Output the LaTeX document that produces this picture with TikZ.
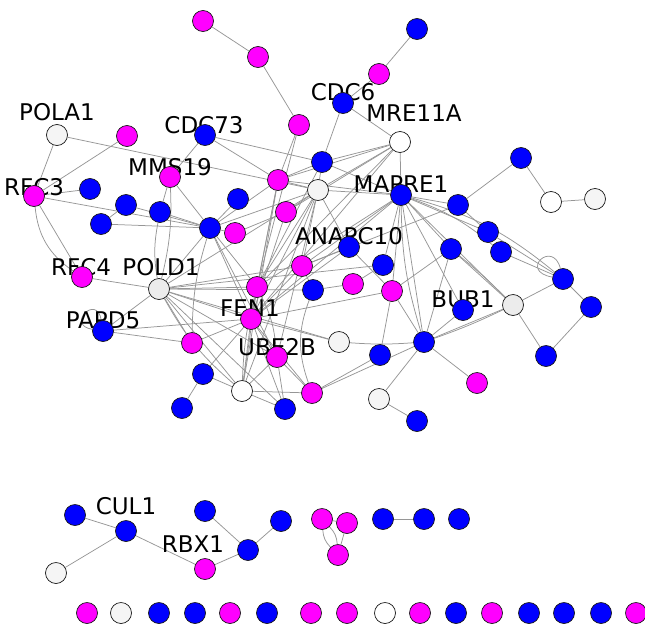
\documentclass[tikz,border=0pt]{standalone}
\usepackage{fontspec}
\setmainfont{DejaVu Sans}
\pgfdeclarelayer{bg}
\pgfdeclarelayer{lab}
\pgfsetlayers{bg,lab,main}
\definecolor{edgec}{RGB}{150,150,150}
\definecolor{lgr}{RGB}{236,236,236}
\definecolor{wgr}{RGB}{245,245,245}
\begin{document}
\begin{tikzpicture}[x=1pt,y=-1pt,
  gn/.style={circle,minimum size=21pt,inner sep=0pt,draw=black!90,line width=0.7pt},
  bl/.style={gn,fill={rgb,255:red,0;green,0;blue,255}},
  mg/.style={gn,fill={rgb,255:red,255;green,0;blue,255}},
  wh/.style={gn,fill=white},
  lw/.style={gn,fill=wgr},
  lg/.style={gn,fill=lgr},
  ed/.style={draw=edgec,line width=0.75pt},
  lbl/.style={inner sep=0pt,font=\fontsize{23}{25}\selectfont,text=black}]
\useasboundingbox (0,0) rectangle (645,624);
% ---------- main component nodes ----------
\node[mg] (A1) at (203,21) {};
\node[mg] (A2) at (258,57) {};
\node[mg] (A3) at (299,125) {};
\node[bl] (A4) at (417,29) {};
\node[mg] (A5) at (379,74) {};
\node[bl] (CDC6) at (343,103) {};
\node[wh] (MRE) at (400,142) {};
\node[lw] (POLA1) at (57,135) {};
\node[mg] (M127) at (127,136) {};
\node[bl] (CDC73) at (205,135) {};
\node[mg] (MMS19) at (170,177) {};
\node[mg] (RFC3) at (34,196) {};
\node[bl] (B90) at (90,189) {};
\node[bl] (B126) at (126,205) {};
\node[bl] (B101) at (101,224) {};
\node[bl] (B160) at (160,212) {};
\node[bl] (B209) at (210,228) {};
\node[bl] (B238) at (238,199) {};
\node[mg] (M235) at (235,233) {};
\node[mg] (M278) at (278,180) {};
\node[mg] (M286) at (286,212) {};
\node[bl] (B322) at (322,162) {};
\node[lw] (W318) at (318,190) {};
\node[bl] (MAPRE1) at (401,195) {};
\node[bl] (B458) at (458,205) {};
\node[bl] (B521) at (521,158) {};
\node[wh] (W551) at (551,202) {};
\node[lw] (W595) at (595,199) {};
\node[bl] (B488) at (488,232) {};
\node[bl] (B501) at (501,252) {};
\node[bl] (B451) at (451,249) {};
\node[bl] (B563) at (563,279) {};
\node[bl] (B591) at (591,307) {};
\node[bl] (B546) at (546,356) {};
\node[bl] (BUB1) at (463,310) {};
\node[lg] (W513) at (513,305) {};
\node[bl] (ANAPC10) at (349,247) {};
\node[bl] (B383) at (383,265) {};
\node[mg] (M353) at (353,284) {};
\node[mg] (M392) at (392,291) {};
\node[mg] (M303) at (302,266) {};
\node[bl] (B313) at (313,290) {};
\node[lw] (W339) at (339,342) {};
\node[bl] (B424) at (424,342) {};
\node[bl] (B380) at (380,355) {};
\node[mg] (M312) at (312,393) {};
\node[lw] (W379) at (379,399) {};
\node[bl] (B417) at (417,421) {};
\node[mg] (M477) at (477,383) {};
\node[mg] (RFC4) at (82,277) {};
\node[bl] (PAPD5) at (103,331) {};
\node[lg] (POLD1) at (159,289) {};
\node[mg] (M257) at (257,287) {};
\node[mg] (FEN1) at (251,319) {};
\node[mg] (UBE2B) at (277,357) {};
\node[mg] (M192) at (192,343) {};
\node[bl] (B203) at (203,374) {};
\node[bl] (B182) at (182,408) {};
\node[wh] (W242) at (242,391) {};
\node[bl] (B285) at (285,409) {};
% ---------- lower components ----------
\node[bl] (C1) at (75,515) {};
\node[bl] (CUL1) at (126,531) {};
\node[lw] (C2) at (56,573) {};
\node[bl] (C3) at (205,511) {};
\node[mg] (RBX1) at (205,569) {};
\node[bl] (C4) at (248,550) {};
\node[bl] (C5) at (281,521) {};
\node[mg] (T1) at (322,519) {};
\node[mg] (T2) at (347,523) {};
\node[mg] (T3) at (338,555) {};
\node[bl] (D1) at (383,519) {};
\node[bl] (D2) at (424,519) {};
\node[bl] (D3) at (459,519) {};
% ---------- bottom row ----------
\node[mg] (R1) at (87,613) {};
\node[lw] (R2) at (121,613) {};
\node[bl] (R3) at (159,613) {};
\node[bl] (R4) at (195,613) {};
\node[mg] (R5) at (230,613) {};
\node[bl] (R6) at (267,613) {};
\node[mg] (R7) at (311,613) {};
\node[mg] (R8) at (347,613) {};
\node[wh] (R9) at (385,613) {};
\node[mg] (R10) at (420,613) {};
\node[bl] (R11) at (456,613) {};
\node[mg] (R12) at (492,613) {};
\node[bl] (R13) at (529,613) {};
\node[bl] (R14) at (564,613) {};
\node[bl] (R15) at (601,613) {};
\node[mg] (R16) at (636,613) {};
% ---------- labels ----------
\begin{pgfonlayer}{lab}
\node[lbl] (lPOLA1) at (57,112) {POLA1};
\node[lbl] (lCDC6) at (343,92) {CDC6};
\node[lbl] (lMRE) at (414,113) {MRE11A};
\node[lbl] (lCDC73) at (204,125) {CDC73};
\node[lbl] (lMMS19) at (170,167) {MMS19};
\node[lbl] (lRFC3) at (34,187) {RFC3};
\node[lbl] (lMAPRE1) at (401,184) {MAPRE1};
\node[lbl] (lANAPC10) at (349,236) {ANAPC10};
\node[lbl] (lBUB1) at (463,299) {BUB1};
\node[lbl] (lRFC4) at (81,267) {RFC4};
\node[lbl] (lPOLD1) at (161,267) {POLD1};
\node[lbl] (lPAPD5) at (103,320) {PAPD5};
\node[lbl] (lFEN1) at (250,308) {FEN1};
\node[lbl] (lUBE2B) at (277,347) {UBE2B};
\node[lbl] (lCUL1) at (126,506) {CUL1};
\node[lbl] (lRBX1) at (193,544) {RBX1};
\end{pgfonlayer}
% ---------- edges ----------
\begin{pgfonlayer}{bg}
\path[ed]
 (A1) edge (A2) (A2) edge (A3) (A3) edge (M278) (A3) edge (M257)
 (A4) edge (A5) (A5) edge (CDC6) (CDC6) edge (MRE) (CDC6) edge (B322)
 (MRE) edge (B322) (MRE) edge (W318) (MRE) edge (M278) (MRE) edge (M257)
 (MRE) edge (FEN1) (MRE) edge (MAPRE1) (MRE) edge (M286)
 (POLA1) edge (RFC3) (POLA1) edge (W318) (M127) edge (RFC3)
 (CDC73) edge (MMS19) (CDC73) edge (B322) (CDC73) edge (M278)
 (RFC3) edge (B90) (RFC3) edge (B209) (RFC3) edge (RFC4)
 (RFC3) edge[bend right=25] (RFC4)
 (B126) edge (B101) (B126) edge (B209) (B101) edge (B209)
 (MMS19) edge (B160) (MMS19) edge (B209) (MMS19) edge[bend left=8] (POLD1)
 (B160) edge[bend right=10] (POLD1) (B160) edge (B209)
 (B209) edge (B238) (B209) edge (M278) (B209) edge (W318) (B209) edge (M257)
 (B209) edge (FEN1) (B209) edge (M235) (B209) edge (POLD1) (B209) edge (UBE2B)
 (M278) edge (W318) (M278) edge (B322) (M278) edge (MAPRE1) (M278) edge (M257)
 (M278) edge (FEN1) (M278) edge (W242)
 (M286) edge (W318) (M286) edge (FEN1) (M286) edge (M235)
 (B322) edge (W318) (B322) edge (MAPRE1) (B322) edge (M257)
 (W318) edge (MAPRE1) (W318) edge (ANAPC10) (W318) edge (FEN1) (W318) edge (M257)
 (W318) edge (POLD1) (W318) edge (M303) (W318) edge (UBE2B) (W318) edge (W242)
 (MAPRE1) edge (B458) (MAPRE1) edge (B488) (MAPRE1) edge[bend left=10] (B501)
 (MAPRE1) edge (B451) (MAPRE1) edge[bend left=12] (B563) (MAPRE1) edge (B424)
 (MAPRE1) edge[bend right=8] (B424) (MAPRE1) edge (M392) (MAPRE1) edge (B383)
 (MAPRE1) edge (BUB1) (MAPRE1) edge (W513) (MAPRE1) edge (FEN1)
 (MAPRE1) edge (M257) (MAPRE1) edge (M303)
 (B458) edge (B521) (B458) edge (B488) (B458) edge (M303)
 (B521) edge (W551) (W551) edge (W595)
 (B488) edge (B563) (B501) edge (B563) (B563) edge (W513) (B563) edge (B591)
 (B591) edge (B546) (B546) edge (W513)
 (B451) edge (B424) (B451) edge (W513) (B451) edge[bend left=3] (W513) (B451) edge (M392)
 (B424) edge (M392) (B424) edge (W513) (B424) edge[bend right=3] (W513)
 (B424) edge (BUB1) (B424) edge (M477) (B424) edge (W379)
 (B424) edge[bend left=4] (W339) (B424) edge (M312)
 (W379) edge (B417) (M392) edge (B380) (B380) edge (M312) (M392) edge (FEN1)
 (ANAPC10) edge (M303) (ANAPC10) edge (M392) (ANAPC10) edge (FEN1)
 (B383) edge (M353) (M353) edge (B313) (B383) edge (POLD1)
 (B313) edge[bend right=20] (M312) (B313) edge (POLD1)
 (M303) edge (FEN1) (M303) edge (POLD1) (M303) edge (B313)
 (W339) edge (FEN1) (W339) edge (POLD1)
 (RFC4) edge (POLD1) (PAPD5) edge (POLD1) (PAPD5) edge (FEN1) (PAPD5) edge (M192)
 (POLD1) edge (M257) (POLD1) edge (FEN1) (POLD1) edge (M192) (POLD1) edge (W242)
 (POLD1) edge (UBE2B) (POLD1) edge (B285) (POLD1) edge[bend right=10] (W242)
 (M192) edge (FEN1) (M192) edge[bend left=8] (B209)
 (B203) edge (B182) (B203) edge (W242) (B203) edge (FEN1)
 (W242) edge (FEN1) (W242) edge (M257) (W242) edge (UBE2B) (W242) edge (M312)
 (W242) edge (B285) (W242) edge[bend left=6] (M257)
 (B285) edge (FEN1) (B285) edge (UBE2B) (M312) edge (UBE2B) (M312) edge (FEN1)
 (UBE2B) edge (FEN1) (FEN1) edge (M257) (UBE2B) edge[bend right=10] (M257)
 (C1) edge (CUL1) (CUL1) edge (C2) (CUL1) edge (RBX1) (RBX1) edge (C4)
 (C4) edge (C3) (C4) edge (C5)
 (T1) edge (T2) (T1) edge[bend left=20] (T3) (T1) edge[bend right=20] (T3) (T2) edge (T3)
 (D1) edge (D2);
\draw[ed] (B563) .. controls +(-45,-8) and +(-10,-40) .. (B563);
\draw[ed] (PAPD5) .. controls +(-38,-6) and +(-6,-38) .. (PAPD5);
\end{pgfonlayer}
\end{tikzpicture}
\end{document}
